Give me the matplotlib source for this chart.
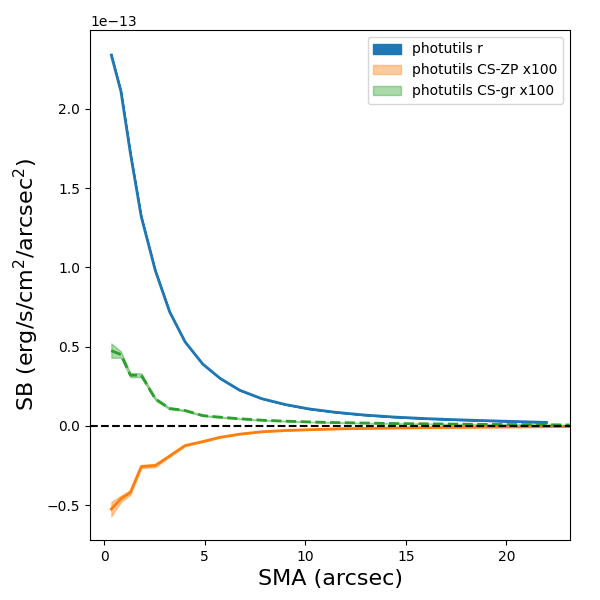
import numpy as np
import matplotlib
matplotlib.use('Agg')
import matplotlib.pyplot as plt

# semi-major axis (arcsec)
sma = np.array([0.35, 0.83, 1.30, 1.84, 2.54, 3.25, 4.02, 4.90, 5.76, 6.74,
                7.83, 9.0, 10.2, 11.5, 12.9, 14.4, 16.0, 17.7, 19.5, 20.9,
                22.0, 23.15])

# surface brightness, r band (units of 1e-13), last sma not measured
sb_r = np.array([2.34, 2.11, 1.72, 1.32, 0.98, 0.72, 0.53, 0.39, 0.30, 0.225,
                 0.172, 0.135, 0.107, 0.086, 0.069, 0.056, 0.046, 0.038, 0.031,
                 0.026, 0.022])
sb_r_err = np.array([0.006, 0.005, 0.004, 0.004, 0.003, 0.003, 0.002, 0.002,
                     0.002, 0.002, 0.001, 0.001, 0.001, 0.001, 0.001, 0.001,
                     0.001, 0.001, 0.001, 0.001, 0.001])

# colour-term / zero-point contributions, scaled x100
cs_zp = np.array([-0.525, -0.46, -0.42, -0.257, -0.25, -0.19, -0.124, -0.099,
                  -0.072, -0.052, -0.037, -0.029, -0.024, -0.019, -0.016,
                  -0.013, -0.011, -0.009, -0.007, -0.006, -0.005, -0.004])
cs_zp_err = np.array([0.045, 0.02, 0.015, 0.01, 0.01, 0.006, 0.004, 0.003,
                      0.003, 0.002, 0.002, 0.002, 0.001, 0.001, 0.001, 0.001,
                      0.001, 0.001, 0.001, 0.001, 0.001, 0.001])

cs_gr = np.array([0.475, 0.45, 0.32, 0.32, 0.17, 0.11, 0.097, 0.065, 0.055,
                  0.045, 0.036, 0.030, 0.025, 0.021, 0.018, 0.015, 0.013,
                  0.011, 0.009, 0.008, 0.007, 0.006])
cs_gr_err = np.array([0.045, 0.02, 0.012, 0.012, 0.008, 0.005, 0.004, 0.003,
                      0.003, 0.002, 0.002, 0.002, 0.001, 0.001, 0.001, 0.001,
                      0.001, 0.001, 0.001, 0.001, 0.001, 0.001])

scale = 1e-13

fig = plt.figure(figsize=(6, 6), dpi=100)
ax = fig.add_axes([0.15, 0.1, 0.80, 0.85])

x_r = sma[:len(sb_r)]
ax.fill_between(x_r, (sb_r - sb_r_err) * scale, (sb_r + sb_r_err) * scale,
                color='C0', label='photutils r')
ax.plot(x_r, sb_r * scale, color='C0', lw=2)

ax.fill_between(sma, (cs_zp - cs_zp_err) * scale, (cs_zp + cs_zp_err) * scale,
                color='C1', alpha=0.4, label='photutils CS-ZP x100')
ax.plot(sma, cs_zp * scale, color='C1', lw=2)

ax.fill_between(sma, (cs_gr - cs_gr_err) * scale, (cs_gr + cs_gr_err) * scale,
                color='C2', alpha=0.4, label='photutils CS-gr x100')
ax.plot(sma, cs_gr * scale, color='C2', lw=2, ls='--')

ax.axhline(0, color='k', ls='--', lw=1.5)

ax.set_xlim(-0.71, 23.17)
ax.set_ylim(-0.72e-13, 2.498e-13)
ax.set_xlabel('SMA (arcsec)', fontsize=16)
ax.set_ylabel('SB (erg/s/cm$^2$/arcsec$^2$)', fontsize=16)
ax.legend(loc='upper right')

fig.savefig('out.png', dpi=100)
